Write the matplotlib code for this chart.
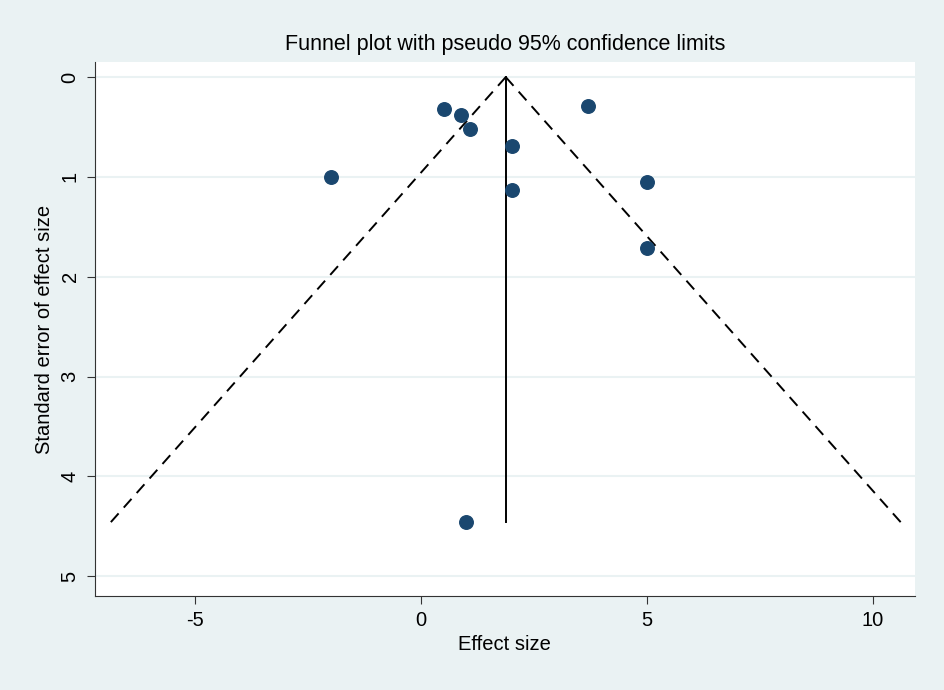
import numpy as np
import matplotlib
matplotlib.use('Agg')
import matplotlib.pyplot as plt

# estudios: tamaño del efecto y error estándar
efecto = [0.51, 0.88, 1.08, 2.01, 3.69, -1.99, 2.01, 5.0, 5.0, 1.0]
error_est = [0.32, 0.38, 0.52, 0.69, 0.29, 1.00, 1.13, 1.05, 1.71, 4.46]
efecto_global = 1.88
x_ticks = [-5, 0, 5, 10]
y_ticks = [0, 1, 2, 3, 4, 5]

plt.rcParams['font.family'] = ['Liberation Sans', 'DejaVu Sans']
plt.rcParams['axes.unicode_minus'] = False

fondo = '#EAF2F3'
fig = plt.figure(figsize=(9.44, 6.9), dpi=100, facecolor=fondo)
ax = fig.add_axes([0.1006, 0.136, 0.8684, 0.774])
ax.set_facecolor('white')

# límites de confianza pseudo 95%
se_max = max(error_est)
se_linea = np.array([0, se_max])
ax.plot(efecto_global - 1.96 * se_linea, se_linea, '--', color='black', lw=1.4, dashes=(6, 4))
ax.plot(efecto_global + 1.96 * se_linea, se_linea, '--', color='black', lw=1.4, dashes=(6, 4))
ax.plot([efecto_global, efecto_global], [0, se_max], color='black', lw=1.4)

ax.scatter(efecto, error_est, s=95, color='#1A476F', zorder=3)

ax.set_xlim(-7.21, 10.93)
ax.set_ylim(5.2, -0.15)
ax.set_xticks(x_ticks)
ax.set_yticks(y_ticks)
ax.set_yticklabels([str(t) for t in y_ticks], rotation=90, va='center')
ax.grid(axis='y', color=fondo, lw=1.5)
ax.set_axisbelow(True)
for lado in ['top', 'right']:
    ax.spines[lado].set_visible(False)
for lado in ['left', 'bottom']:
    ax.spines[lado].set_color('#333333')
ax.tick_params(direction='out', length=6, labelsize=14.5, colors='#333333', labelcolor='black', pad=5)

ax.set_title('Funnel plot with pseudo 95% confidence limits', fontsize=15.5, pad=9)
ax.set_xlabel('Effect size', fontsize=14.5, labelpad=3)
ax.set_ylabel('Standard error of effect size', fontsize=14.5, labelpad=5)

fig.savefig('out.png', dpi=100, facecolor=fondo)
